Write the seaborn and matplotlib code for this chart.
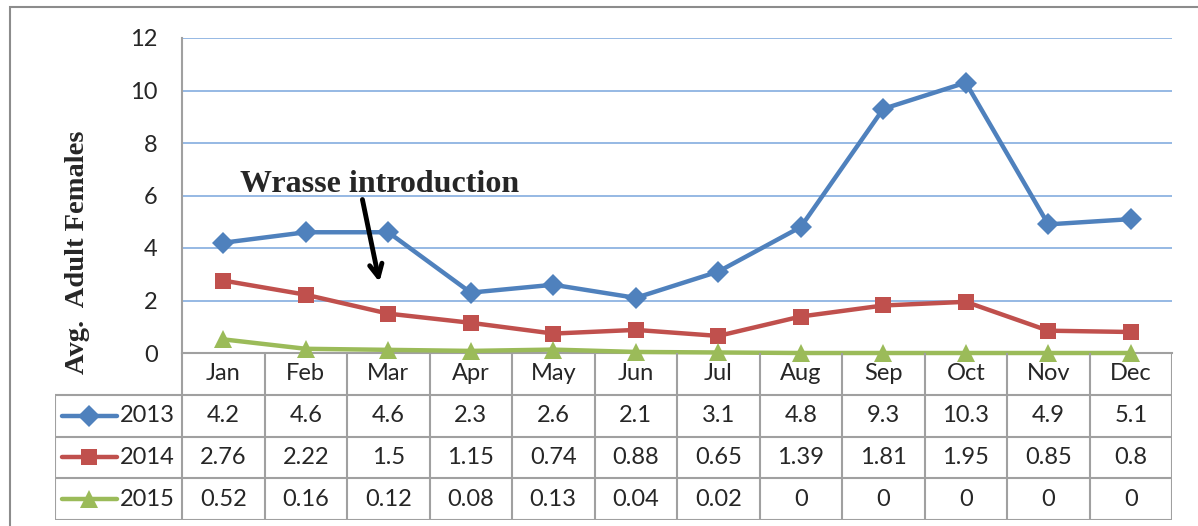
import numpy as np
import pandas as pd
import matplotlib
matplotlib.use("Agg")
import matplotlib.pyplot as plt
import seaborn as sns
from matplotlib.lines import Line2D
from matplotlib.patches import Rectangle

# Chart data
months = ["Jan", "Feb", "Mar", "Apr", "May", "Jun", "Jul", "Aug", "Sep", "Oct", "Nov", "Dec"]
years = ["2013", "2014", "2015"]
vals_2013 = [4.2, 4.6, 4.6, 2.3, 2.6, 2.1, 3.1, 4.8, 9.3, 10.3, 4.9, 5.1]
vals_2014 = [2.76, 2.22, 1.5, 1.15, 0.74, 0.88, 0.65, 1.39, 1.81, 1.95, 0.85, 0.8]
vals_2015 = [0.52, 0.16, 0.12, 0.08, 0.13, 0.04, 0.02, 0, 0, 0, 0, 0]
y_ticks = [0, 2, 4, 6, 8, 10, 12]

series = {"2013": vals_2013, "2014": vals_2014, "2015": vals_2015}
colors = {"2013": "#4F81BD", "2014": "#C0504D", "2015": "#9BBB59"}
markers = {"2013": "D", "2014": "s", "2015": "^"}
msizes = {"2013": 11.5, "2014": 12, "2015": 13}

# long-form table for seaborn
df = pd.DataFrame([
    {"idx": i, "month": m, "year": y, "value": series[y][i]}
    for y in years for i, m in enumerate(months)
])

sns.set_style("white")
plt.rcParams["font.family"] = ["Lato", "DejaVu Sans"]
FS = 17

W, H = 1198, 526
fig = plt.figure(figsize=(W / 100, H / 100), dpi=100)

# outer chart border (cropped on right/bottom like the reference)
fig.patches.append(Rectangle((10 / W, -0.05), 1.2, 1 - 7 / H + 0.05, transform=fig.transFigure,
                             fill=False, edgecolor="#8C8C8C", linewidth=1.5, zorder=0))

ax_l, ax_r = 182 / W, 1172 / W
ax_b, ax_t = (H - 353) / H, (H - 38) / H
ax = fig.add_axes([ax_l, ax_b, ax_r - ax_l, ax_t - ax_b])

for y in years:
    sub = df[df["year"] == y]
    sns.lineplot(data=sub, x="idx", y="value", ax=ax, color=colors[y], marker=markers[y],
                 markersize=msizes[y], markeredgewidth=0, linewidth=3.2, legend=False,
                 zorder=3, clip_on=False)

ax.set_xlim(-0.5, 11.5)
ax.set_ylim(0, 12)
ax.set_yticks(y_ticks)
ax.set_xticks([])
ax.set_xlabel("")
ax.set_ylabel("")
ax.yaxis.grid(True, color="#8DB3E2", linewidth=1.3)
ax.set_axisbelow(True)
ax.tick_params(axis="y", length=0, pad=17.5, labelsize=FS)
for s in ["top", "right"]:
    ax.spines[s].set_visible(False)
for s in ["left", "bottom"]:
    ax.spines[s].set_color("#A0A0A0")
    ax.spines[s].set_linewidth(1.5)

fig.text(78 / W, (H - 252) / H, "Avg.  Adult Females", rotation=90, ha="center", va="center",
         family="Liberation Serif", fontweight="bold", fontsize=20.5)

ax.text(1.89, 6.42, "Wrasse introduction", ha="center", va="center",
        family="Liberation Serif", fontweight="bold", fontsize=23)
ax.annotate("", xy=(1.9, 2.6), xytext=(1.68, 5.95),
            arrowprops=dict(arrowstyle="->,head_length=0.9,head_width=0.45", color="black", lw=3.5))

# data table below the plot
tab_l = 55 / W
tax = fig.add_axes([tab_l, (H - 520) / H, ax_r - tab_l, (520 - 353) / H])
x0 = -0.5 - (182 - 55) / 82.5
tax.set_xlim(x0, 11.5)
tax.set_ylim(0, 4)
tax.axis("off")
gc, glw = "#A0A0A0", 1.5
for k in range(13):
    tax.plot([k - 0.5, k - 0.5], [0, 4], color=gc, lw=glw, solid_capstyle="butt")
tax.plot([x0, x0], [0, 3], color=gc, lw=glw)
for r in range(4):
    tax.plot([x0, 11.5], [r, r], color=gc, lw=glw)

for i, m in enumerate(months):
    tax.text(i, 3.5, m, ha="center", va="center", fontsize=FS)

for r, y in enumerate(years):
    yc = 2.5 - r
    lx0 = (62 - 182) / 82.5 - 0.5
    lx1 = (117 - 182) / 82.5 - 0.5
    tax.add_line(Line2D([lx0, lx1], [yc, yc], color=colors[y], lw=3.2, solid_capstyle="round"))
    tax.add_line(Line2D([(lx0 + lx1) / 2], [yc], color=colors[y], marker=markers[y],
                        markersize=msizes[y], markeredgewidth=0))
    tax.text((120 - 182) / 82.5 - 0.5, yc, y, ha="left", va="center", fontsize=FS)
    for i, v in enumerate(series[y]):
        tax.text(i, yc, f"{v:g}", ha="center", va="center", fontsize=FS)

fig.savefig("out.png", dpi=100)
